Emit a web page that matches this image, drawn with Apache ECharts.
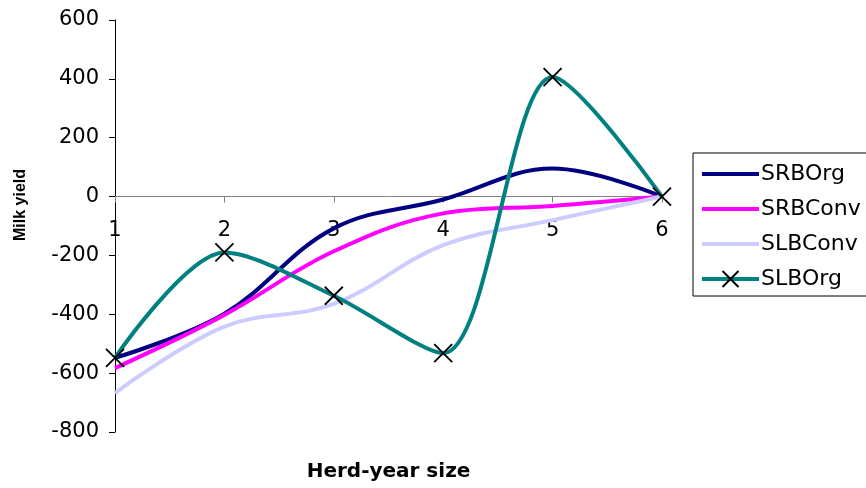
<!DOCTYPE html>
<html>
<head>
<meta charset="utf-8">
<script src="https://cdn.jsdelivr.net/npm/echarts@6/dist/echarts.min.js"></script>
<style>
  html, body { margin: 0; padding: 0; background: #fff; }
  #chart { width: 866px; height: 488px; }
</style>
</head>
<body>
<div id="chart"></div>
<script>
// herd-year size classes
const categories = ['1', '2', '3', '4', '5', '6']

// milk yield per breed / system
const srbOrg = [-548, -398, -108, -10, 95, 0]
const srbConv = [-583, -402, -186, -57, -32, 0]
const slbConv = [-668, -442, -365, -165, -80, 0]
const slbOrg = [-548, -190, -337, -532, 406, 0]

const yTicks = { min: -800, max: 600, step: 200 }

const chart = echarts.init(document.getElementById('chart'))

const crossPath = 'path://M0,0L10,10M10,0L0,10'

const lineSeries = (name, data, color) => ({
  name: name,
  type: 'line',
  data: data,
  smooth: 0.38,
  showSymbol: false,
  symbol: 'circle',
  lineStyle: { color: color, width: 4 },
  itemStyle: { color: color },
  emphasis: { disabled: true }
})

// hide the legend marker for plain lines
const noMarker = { opacity: 0 }

const option = {
  backgroundColor: '#fff',
  animation: false,
  textStyle: { fontFamily: 'DejaVu Sans' },
  grid: { left: 115, right: 204, top: 20, bottom: 56, containLabel: false, outerBoundsMode: 'none' },
  legend: {
    orient: 'vertical',
    left: 693,
    top: 153,
    padding: [10, 40, 6, 7],
    itemWidth: 57,
    itemHeight: 20,
    itemGap: 13,
    borderColor: '#000',
    borderWidth: 1,
    lineStyle: { width: 4 },
    textStyle: { fontSize: 22, color: '#000', fontFamily: 'DejaVu Sans', padding: [0, 0, 0, -3] },
    data: [
      { name: 'SRBOrg', itemStyle: noMarker },
      { name: 'SRBConv', itemStyle: noMarker },
      { name: 'SLBConv', itemStyle: noMarker },
      { name: 'SLBOrg' }
    ]
  },
  xAxis: {
    type: 'category',
    data: categories,
    boundaryGap: false,
    name: 'Herd-year size',
    nameLocation: 'middle',
    nameGap: 30,
    nameTextStyle: { fontSize: 20, fontWeight: 'bold', color: '#000', fontFamily: 'DejaVu Sans' },
    axisLine: { onZero: true, lineStyle: { color: '#808080', width: 1 } },
    axisTick: { show: true, alignWithLabel: true, length: 6, lineStyle: { color: '#808080' } },
    // labels sit just under the zero line, as in the original
    axisLabel: { fontSize: 21, color: '#000', margin: -212, interval: 0 },
    splitLine: { show: false }
  },
  yAxis: {
    type: 'value',
    min: yTicks.min,
    max: yTicks.max,
    interval: yTicks.step,
    name: 'Milk yield',
    nameLocation: 'middle',
    nameGap: 86,
    nameRotate: 90,
    nameTextStyle: { fontSize: 16, fontWeight: 'bold', color: '#000', fontFamily: 'Liberation Sans', padding: [0, 0, 0, 42] },
    axisLine: { show: true, lineStyle: { color: '#000', width: 1 } },
    axisTick: { show: true, length: 6, lineStyle: { color: '#000' } },
    axisLabel: { fontSize: 21, color: '#000', margin: 16 },
    splitLine: { show: false }
  },
  series: [
    lineSeries('SRBOrg', srbOrg, '#000080'),
    lineSeries('SRBConv', srbConv, '#ff00ff'),
    lineSeries('SLBConv', slbConv, '#ccccff'),
    {
      name: 'SLBOrg',
      type: 'line',
      data: slbOrg,
      smooth: 0.3,
      symbol: crossPath,
      symbolSize: 18,
      showSymbol: true,
      lineStyle: { color: '#008080', width: 4 },
      itemStyle: { color: '#000', borderColor: '#000', borderWidth: 1.8 },
      emphasis: { disabled: true },
      z: 3
    }
  ]
}

chart.setOption(option)
</script>
</body>
</html>
